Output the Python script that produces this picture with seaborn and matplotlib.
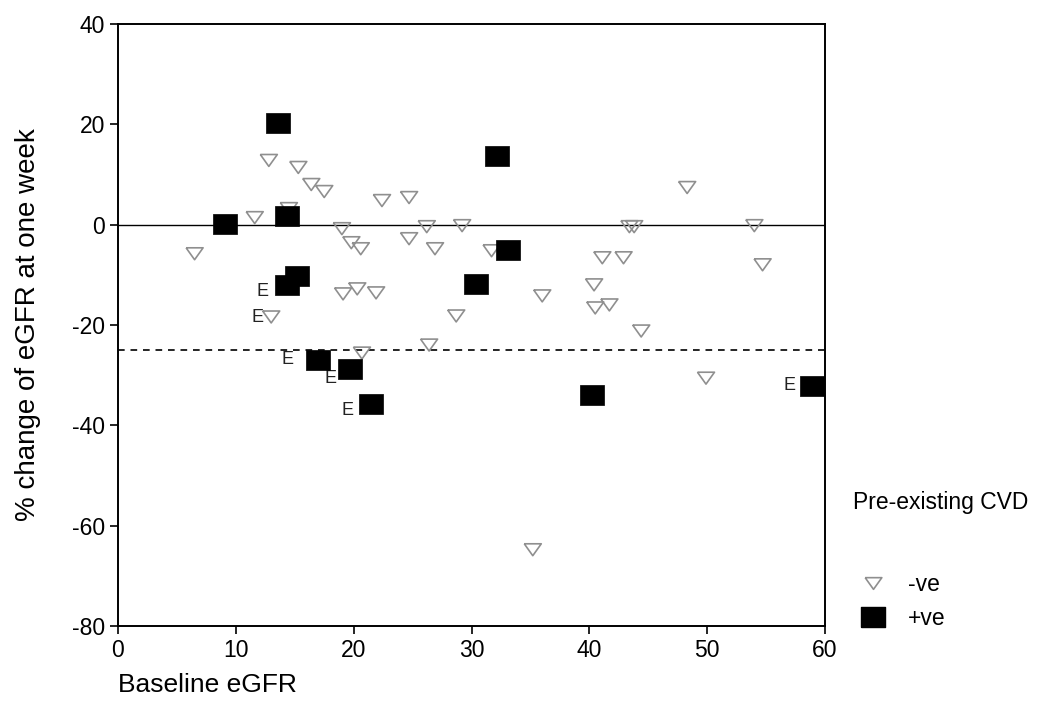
import numpy as np
import pandas as pd
import seaborn as sns
import matplotlib.pyplot as plt
from matplotlib.lines import Line2D

# -ve CVD (open grey triangles)
neg_x = [6.5, 11.6, 12.8, 15.3, 16.4, 17.5, 14.5, 19.0, 19.8, 20.6, 19.1, 20.3,
         21.9, 13.0, 20.7, 22.4, 24.7, 24.7, 26.2, 26.9, 29.2, 31.7, 28.7, 26.4,
         36.0, 40.4, 40.5, 41.7, 41.1, 42.9, 43.4, 43.8, 48.3, 54.0, 54.7, 44.4,
         49.9, 35.2]
neg_y = [-5.8, 1.4, 12.8, 11.4, 8.0, 6.6, 3.2, -0.8, -3.6, -4.8, -13.8, -12.8,
         -13.6, -18.4, -25.6, 4.8, 5.4, -2.8, -0.4, -4.8, -0.2, -5.2, -18.2, -24.0,
         -14.2, -12.0, -16.6, -16.0, -6.6, -6.6, -0.4, -0.4, 7.4, -0.2, -8.0, -21.2,
         -30.6, -64.8]

# +ve CVD (filled black squares)
pos_x = [9.1, 13.6, 14.3, 15.2, 14.3, 17.0, 19.7, 21.5, 32.2, 33.1, 30.4, 40.2, 58.9]
pos_y = [0.2, 20.2, 1.8, -10.2, -12.0, -27.0, -28.8, -35.8, 13.6, -5.0, -11.8, -34.0, -32.2]

# "E" annotations
e_x = [12.3, 11.8, 14.4, 18.0, 19.5, 57.0]
e_y = [-13.3, -18.5, -26.8, -30.6, -37.0, -32.0]

x_ticks = [0, 10, 20, 30, 40, 50, 60]
y_ticks = [-80, -60, -40, -20, 0, 20, 40]

sns.set_style('ticks')
plt.rcParams['font.family'] = ['Liberation Sans', 'DejaVu Sans']
plt.rcParams['axes.unicode_minus'] = False
plt.rcParams['text.color'] = 'black'
plt.rcParams['axes.labelcolor'] = 'black'

df_neg = pd.DataFrame({'x': neg_x, 'y': neg_y})
df_pos = pd.DataFrame({'x': pos_x, 'y': pos_y})

tri = [(-1, 0.7), (1, 0.7), (0, -0.7), (-1, 0.7)]
rect = [(-1, -0.85), (1, -0.85), (1, 0.85), (-1, 0.85), (-1, -0.85)]

fig = plt.figure(figsize=(10.42, 7.07), dpi=100)
ax = fig.add_axes([118 / 1042, 1 - 626 / 707, (825 - 118) / 1042, (626 - 24) / 707])

ax.axhline(0, color='black', lw=1.0, zorder=1)
ax.axhline(-25, color='black', lw=1.2, ls=(0, (4, 3.5)), zorder=1)

sns.scatterplot(data=df_neg, x='x', y='y', marker=tri, s=150, facecolor='none',
                edgecolor='#8f8f8f', linewidth=1.2, ax=ax, zorder=3, clip_on=False)
sns.scatterplot(data=df_pos, x='x', y='y', marker=rect, s=290, color='black',
                edgecolor='black', linewidth=0.5, ax=ax, zorder=4, clip_on=False)

for xe, ye in zip(e_x, e_y):
    ax.text(xe, ye, 'E', ha='center', va='center', fontsize=13, color='#222222')

ax.set_xlim(0, 60)
ax.set_ylim(-80, 40)
ax.set_xticks(x_ticks)
ax.set_yticks(y_ticks)
ax.tick_params(labelsize=16.5, direction='out', length=6, width=1.2, colors='black')
for sp in ax.spines.values():
    sp.set_linewidth(1.4)
    sp.set_color('black')

ax.set_xlabel('Baseline eGFR', fontsize=19, loc='left', labelpad=8)
ax.set_ylabel('% change of eGFR at one week', fontsize=20, labelpad=22)

fig.text(853 / 1042, 1 - 503 / 707, 'Pre-existing CVD', fontsize=16.5, va='center', ha='left')
handles = [
    Line2D([], [], ls='none', marker=tri, markersize=12, markerfacecolor='none',
           markeredgecolor='#8f8f8f', markeredgewidth=1.2, label='-ve'),
    Line2D([], [], ls='none', marker=rect, markersize=17, markerfacecolor='black',
           markeredgecolor='black', label='+ve'),
]
fig.legend(handles=handles, loc='upper left', bbox_to_anchor=(848 / 1042, 1 - 562 / 707),
           frameon=False, fontsize=16.5, labelspacing=0.45, handletextpad=0.9,
           handlelength=1.2, borderpad=0)

fig.savefig('out.png', dpi=100)
